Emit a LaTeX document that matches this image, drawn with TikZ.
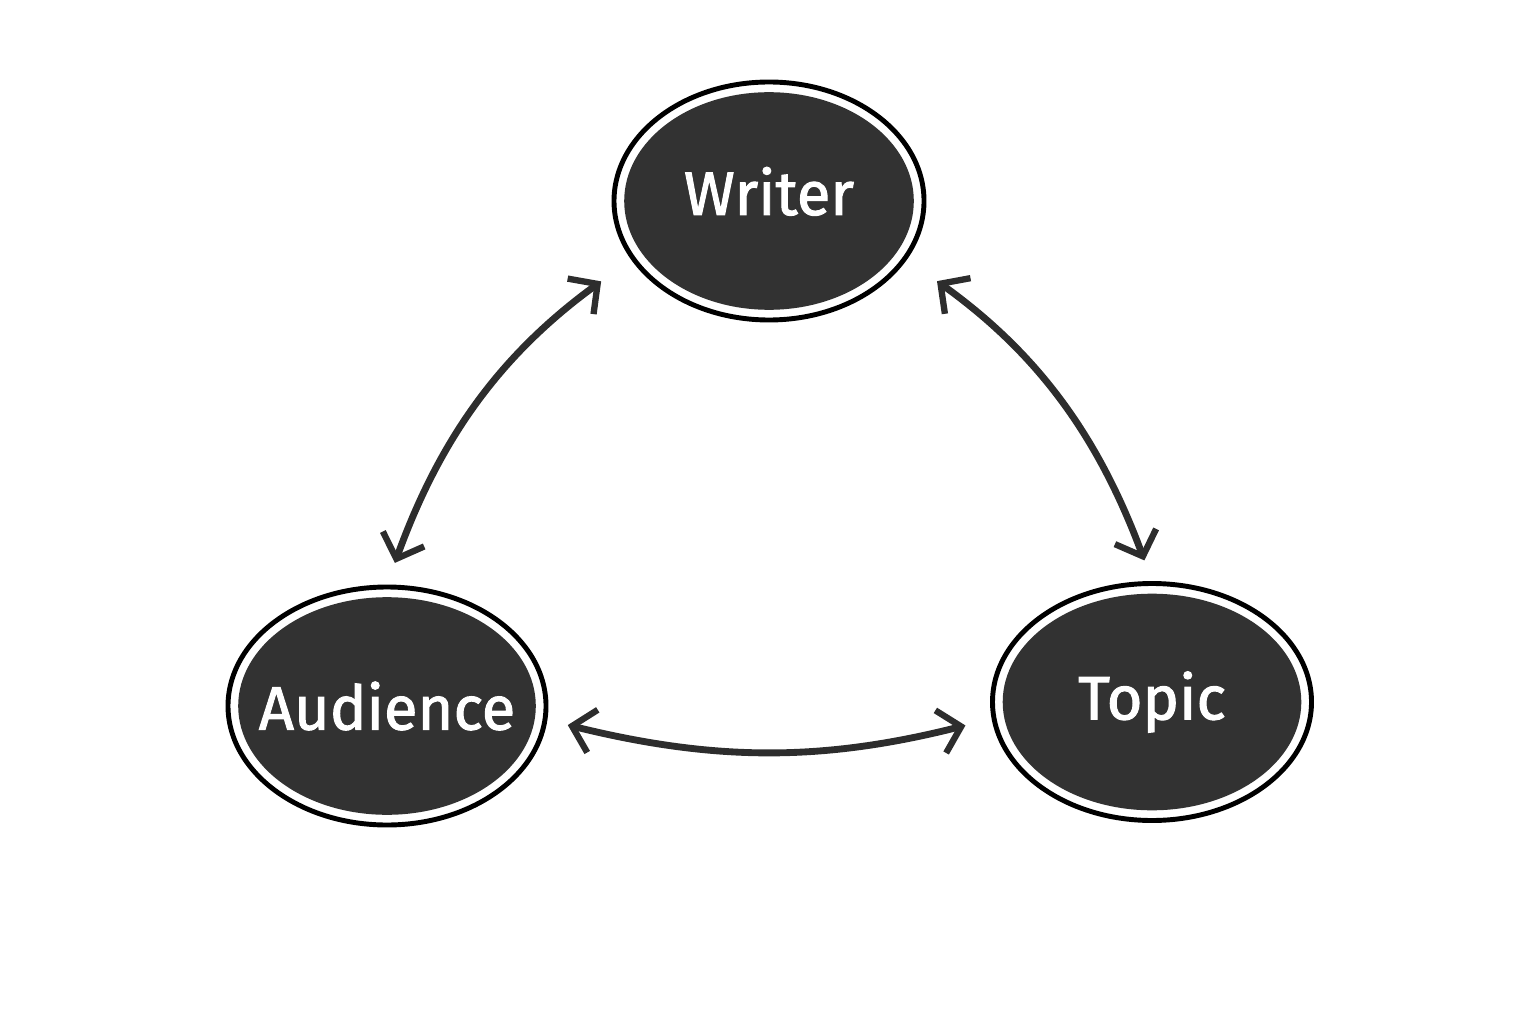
\documentclass[tikz,border=0pt]{standalone}
\usepackage{fontspec}
\newfontfamily\bubblefont{Fira Sans}[FakeBold=1.6]
\usetikzlibrary{shapes.geometric, arrows.meta, calc}

\definecolor{chalk}{RGB}{50,50,50}
\definecolor{ink}{RGB}{45,45,45}

\tikzset{
  bubble/.style={ellipse, draw=black, line width=2.8pt, fill=white, text=white,
    inner xsep=-1cm, inner ysep=-0.5cm,
    font=\bubblefont\fontsize{35}{40}\selectfont,
    path picture={
      \fill[chalk]
        let \p1=(path picture bounding box.north east),
            \p2=(path picture bounding box.center) in
        (\p2) ellipse [x radius={\x1-\x2-5.8pt}, y radius={\y1-\y2-5.8pt}];
    }},
  link/.style={ink, line width=3.9pt, line cap=round,
    {Straight Barb[length=12pt, width=25pt, line width=3.6pt]}-{Straight Barb[length=12pt, width=25pt, line width=3.6pt]}}
}

\begin{document}
\begin{tikzpicture}
  \useasboundingbox (0,0) rectangle (30.72,20.48);
  \coordinate (W) at (15.38, 16.46);
  \coordinate (A) at (7.74, 6.36);
  \coordinate (T) at (23.04, 6.44);

  \node[bubble, minimum width=6.2cm, minimum height=4.76cm] (wri) at (W) {\raisebox{0.4cm}{Writer}};
  \node[bubble, minimum width=6.36cm, minimum height=4.76cm] (aud) at (A) {Audience};
  \node[bubble, minimum width=6.38cm, minimum height=4.74cm] (top) at (T) {Topic};

  % arrows between the three
  \draw[link, shorten <=0.46cm, shorten >=0.74cm] (aud.north) to[bend left=17] (wri.203);
  \draw[link, shorten <=0.74cm, shorten >=0.44cm] (wri.337) to[bend left=17] (top.north);
  \draw[link, shorten <=0.42cm, shorten >=0.54cm] (aud.355) to[bend right=14] (top.186);
\end{tikzpicture}
\end{document}
